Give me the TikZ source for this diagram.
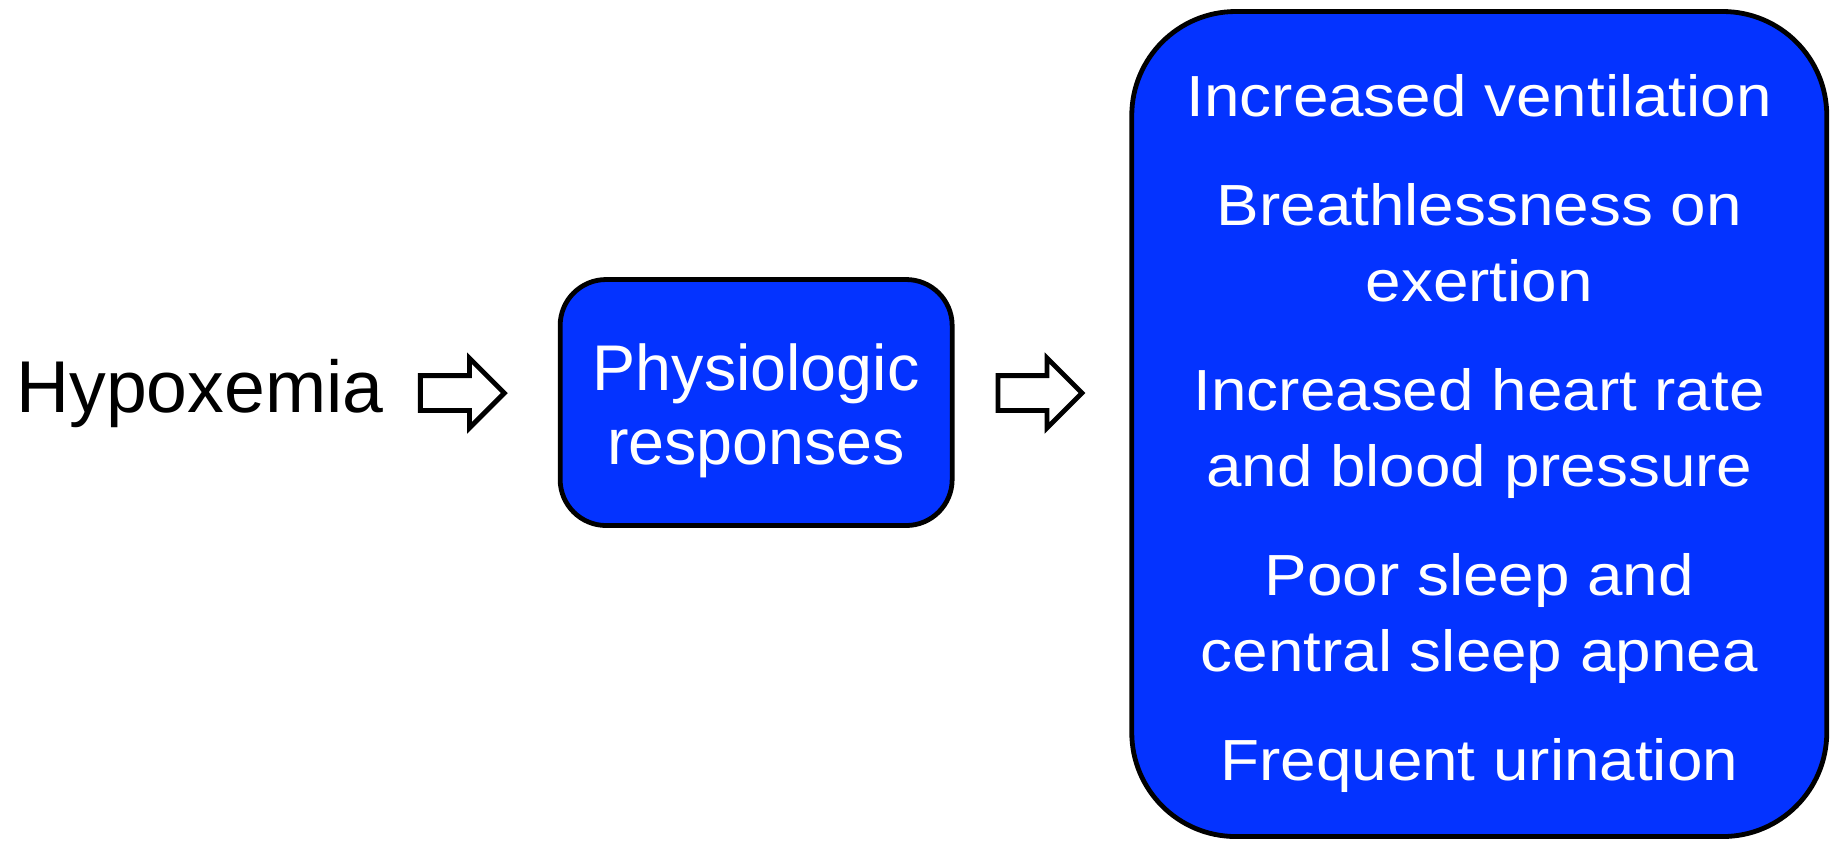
\documentclass[tikz,border=0pt]{standalone}
\usepackage{fontspec}
\setmainfont{Liberation Sans}
\newfontfamily\widesans[FakeStretch=1.1]{Liberation Sans}
\usetikzlibrary{shapes.arrows, positioning}
\definecolor{Ink}{HTML}{000000}
\definecolor{BoxBlue}{HTML}{0433FF}

\begin{document}
\begin{tikzpicture}[
    x=1pt, y=1pt,
    node distance=20pt,
    block/.style={
        rectangle,
        draw=Ink,
        fill=BoxBlue,
        line width=2.4pt,
        align=center,
        text=white
    },
    smallblock/.style={
        block,
        rounded corners=23pt,
        minimum width=196pt,
        minimum height=123pt,
        font=\fontsize{32.3}{37}\selectfont
    },
    bigblock/.style={
        block,
        rounded corners=52pt,
        minimum width=347.5pt,
        minimum height=412.5pt,
        font=\widesans\fontsize{29}{38}\selectfont
    },
    fatarrow/.style={
        single arrow,
        draw=Ink,
        fill=white,
        line width=2.4pt,
        inner xsep=0pt,
        inner ysep=7.5pt,
        minimum height=42pt,
        minimum width=32.5pt,
        single arrow head extend=8.75pt,
        single arrow head indent=0pt
    },
    plaintext/.style={font=\fontsize{36.7}{40}\selectfont, inner sep=0pt}
]
\useasboundingbox (0,0) rectangle (917.5,421);

\node[plaintext, anchor=base west] (hypox) at (8,215) {Hypoxemia};
\node[fatarrow, right=17pt of hypox] (arrA) {};
\node[smallblock, right=25pt of arrA, yshift=-4.75pt] (resp) {\rule{0pt}{32pt}Physiologic\\responses};
\node[fatarrow, right=20.5pt of resp, yshift=4.75pt] (arrB) {};
\node[bigblock, right=22pt of arrB, yshift=-15.5pt] (effects) {%
    \rule{0pt}{30.6pt}Increased ventilation\\[16.5pt]
    Breathlessness on\\exertion\\[16.5pt]
    Increased heart rate\\and blood pressure\\[16.5pt]
    Poor sleep and\\central sleep apnea\\[16.5pt]
    Frequent urination};
\end{tikzpicture}
\end{document}
